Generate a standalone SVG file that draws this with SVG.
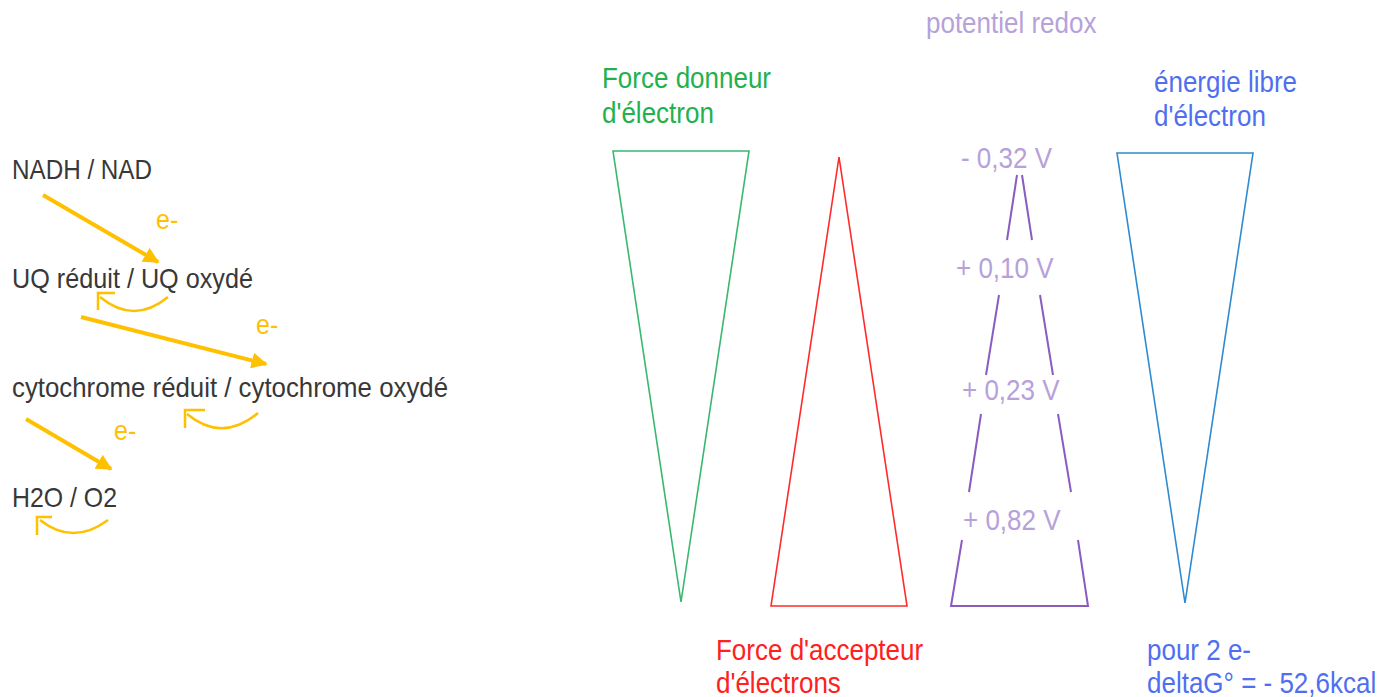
<svg xmlns="http://www.w3.org/2000/svg" width="1394" height="697" viewBox="0 0 1394 697">
<style>
text{font-family:"Liberation Sans",Arial,sans-serif;}
.lt{font-size:25px;fill:#383838;}
.rt{font-size:26px;}
.or{fill:#FFC000;}
.gr{fill:#22b14c;}
.rd{fill:#ff2020;}
.pu{fill:#b7a1da;}
.bl{fill:#4f6ff0;}
.arr{stroke:#FFC000;stroke-width:4;fill:none;}
.cur{stroke:#FFC000;stroke-width:2.5;fill:none;}
.pl{stroke:#8a5cc0;stroke-width:2;fill:none;}
</style>
<defs>
<marker id="ah" viewBox="0 0 10 10" refX="9" refY="5" markerWidth="4" markerHeight="4" markerUnits="strokeWidth" orient="auto">
<path d="M0,0 L10,5 L0,10 z" fill="#FFC000"/>
</marker>
</defs>
<rect width="1394" height="697" fill="#ffffff"/>

<g id="nadh"><text class="lt" transform="translate(12,179) scale(1,1.14)" textLength="140" lengthAdjust="spacingAndGlyphs">NADH / NAD</text></g>
<g id="uq"><text class="lt" transform="translate(12,288) scale(1,1.14)" textLength="241" lengthAdjust="spacingAndGlyphs">UQ réduit / UQ oxydé</text></g>
<g id="cyto"><text class="lt" transform="translate(12,397) scale(1,1.14)" textLength="436" lengthAdjust="spacingAndGlyphs">cytochrome réduit / cytochrome oxydé</text></g>
<g id="h2o"><text class="lt" transform="translate(12,507) scale(1,1.14)" textLength="105" lengthAdjust="spacingAndGlyphs">H2O / O2</text></g>

<g id="connectors">
<line class="arr" x1="43" y1="195" x2="158" y2="262" marker-end="url(#ah)"/>
<line class="arr" x1="81" y1="317" x2="266" y2="364" marker-end="url(#ah)"/>
<line class="arr" x1="26" y1="419" x2="111" y2="469" marker-end="url(#ah)"/>
<path class="cur" d="M168,297 Q134,325 100,297"/>
<polyline class="cur" points="115,293 98,293 98,310"/>
<path class="cur" d="M258,413 Q222,443 187,414"/>
<polyline class="cur" points="205,410 185,410 185,428"/>
<path class="cur" d="M108,520 Q73,546 40,520"/>
<polyline class="cur" points="52,517 37,517 37,535"/>
<text class="lt or" transform="translate(156,229) scale(1,1.14)">e-</text>
<text class="lt or" transform="translate(256,334) scale(1,1.14)">e-</text>
<text class="lt or" transform="translate(114,440) scale(1,1.14)">e-</text>
</g>

<g id="donneur">
<text class="rt gr" transform="translate(602,88) scale(1,1.14)">Force donneur</text>
<text class="rt gr" transform="translate(602,123) scale(1,1.14)">d'électron</text>
<polygon points="613,151 749,151 681,602" fill="none" stroke="#38b870" stroke-width="1.6"/>
</g>

<g id="accepteur">
<polygon points="839,157 907,606 771,606" fill="none" stroke="#ff2a2a" stroke-width="1.6"/>
<text class="rt rd" transform="translate(716,660) scale(1,1.14)">Force d'accepteur</text>
<text class="rt rd" transform="translate(716,693) scale(1,1.14)">d'électrons</text>
</g>

<g id="redox">
<text class="rt pu" transform="translate(926,33) scale(1,1.14)">potentiel redox</text>
<text class="rt pu" transform="translate(961,168) scale(1,1.14)">- 0,32 V</text>
<text class="rt pu" transform="translate(956,278) scale(1,1.14)">+ 0,10 V</text>
<text class="rt pu" transform="translate(962,400) scale(1,1.14)">+ 0,23 V</text>
<text class="rt pu" transform="translate(963,530) scale(1,1.14)">+ 0,82 V</text>
<line class="pl" x1="1017" y1="175" x2="1007" y2="240"/>
<line class="pl" x1="1022" y1="175" x2="1032" y2="240"/>
<line class="pl" x1="999" y1="295" x2="986" y2="375"/>
<line class="pl" x1="1040" y1="295" x2="1053" y2="375"/>
<line class="pl" x1="981" y1="414" x2="969" y2="492"/>
<line class="pl" x1="1058" y1="414" x2="1071" y2="492"/>
<polyline class="pl" points="962,540 951,606 1088,606 1078,540"/>
</g>

<g id="energie">
<text class="rt bl" transform="translate(1154,92) scale(1,1.14)">énergie libre</text>
<text class="rt bl" transform="translate(1154,126) scale(1,1.14)">d'électron</text>
<polygon points="1117,153 1253,153 1185,603" fill="none" stroke="#2f8ad0" stroke-width="1.6"/>
<text class="rt bl" transform="translate(1147,660) scale(1,1.14)">pour 2 e-</text>
<text class="rt bl" transform="translate(1147,693) scale(1,1.14)">deltaG° = - 52,6kcal</text>
</g>
</svg>
